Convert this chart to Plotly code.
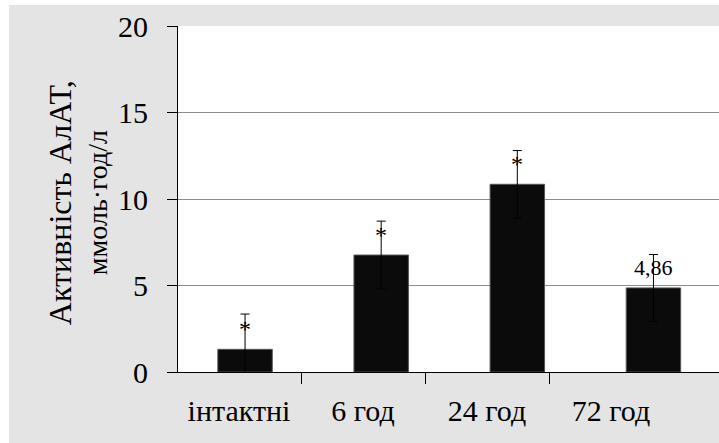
import plotly.graph_objects as go

# ALT activity by time point
groups = ["інтактні", "6 год", "24 год", "72 год"]
values = [1.31, 6.76, 10.85, 4.86]
errors = [2.04, 1.96, 1.95, 1.93]
significant = [True, True, True, False]
value_labels = ["", "", "", "4,86"]
y_ticks = [0, 5, 10, 15, 20]

SERIF = "Liberation Serif"
GRID = "#8c8c8c"
BG = "#e4e4e4"
CLEAR = "rgba(0,0,0,0)"


def serif(text):
    """Wrap a label so the serif face is applied to the text itself."""
    return f"<span style='font-family:{SERIF}'>{text}</span>"


positions = list(range(len(groups)))
boundaries = [p - 0.5 for p in positions]

fig = go.Figure()

fig.add_trace(go.Bar(
    x=positions,
    y=values,
    width=0.4,
    marker=dict(color="#0b0b0b", line=dict(color="#555555", width=1)),
    error_y=dict(type="data", array=errors, visible=True,
                 color="black", thickness=1, width=4.5),
    showlegend=False,
    hoverinfo="skip",
))

# invisible traces that bind the auxiliary axes (group ticks, group labels, y labels)
for xa, ya in (("x2", "y"), ("x3", "y"), ("x", "y2")):
    fig.add_trace(go.Scatter(
        x=positions, y=[0] * len(groups), xaxis=xa, yaxis=ya,
        mode="markers", marker=dict(opacity=0), showlegend=False, hoverinfo="skip",
    ))

annotations = []
for i, v in enumerate(values):
    if significant[i]:
        annotations.append(dict(
            x=positions[i], y=v, xref="x", yref="y", text=serif("*"),
            showarrow=False, yanchor="middle", yshift=20,
            font=dict(family=SERIF, size=24),
        ))
    if value_labels[i]:
        annotations.append(dict(
            x=positions[i], y=v, xref="x", yref="y", text=serif(value_labels[i]),
            showarrow=False, yanchor="middle", yshift=20,
            font=dict(family=SERIF, size=22),
        ))

# y axis title, two lines of different size
annotations.append(dict(
    x=-0.2181, y=0.488, xref="paper", yref="paper", text=serif("Активність АлАТ,"),
    textangle=-90, showarrow=False, xanchor="center", yanchor="middle",
    font=dict(family=SERIF, size=32),
))
annotations.append(dict(
    x=-0.1497, y=0.488, xref="paper", yref="paper", text=serif("ммоль·год/л"),
    textangle=-90, showarrow=False, xanchor="center", yanchor="middle",
    font=dict(family=SERIF, size=28),
))

shapes = [
    # white strips framing the grey panel on the left and top
    dict(type="rect", xref="paper", yref="paper", x0=-0.40, x1=-0.3124,
         y0=-0.4, y1=1.2, fillcolor="white", line=dict(width=0), layer="below"),
    dict(type="rect", xref="paper", yref="paper", x0=-0.40, x1=1.1,
         y0=1.0607, y1=1.2, fillcolor="white", line=dict(width=0), layer="below"),
]

label_font = dict(family=SERIF, size=30)

fig.update_layout(
    width=719, height=443,
    margin=dict(l=178, r=0, t=26, b=71, pad=0),
    paper_bgcolor=BG,
    plot_bgcolor="white",
    font=dict(family=SERIF, color="black"),
    bargap=0.6,
    annotations=annotations,
    shapes=shapes,
    # bar positions
    xaxis=dict(
        range=[-0.4926, 3.4816], showticklabels=False, ticks="",
        showgrid=False, zeroline=False,
        showline=True, linecolor="black", linewidth=1,
    ),
    # tick marks between groups
    xaxis2=dict(
        overlaying="x", side="bottom", anchor="y",
        range=[-0.4919, 3.871],
        tickmode="array", tickvals=boundaries, ticktext=[""] * len(boundaries),
        ticks="outside", ticklen=11, tickcolor="black", tickwidth=1,
        showgrid=False, zeroline=False, showline=False,
    ),
    # group labels
    xaxis3=dict(
        overlaying="x", side="bottom", anchor="y",
        range=[-0.4919, 3.871],
        tickmode="array", tickvals=positions, ticktext=[serif(g) for g in groups],
        ticks="outside", ticklen=12, tickcolor=CLEAR,
        showgrid=False, zeroline=False, showline=False,
        tickfont=label_font,
    ),
    yaxis=dict(
        range=[0, 20], tickvals=y_ticks, showticklabels=False,
        showgrid=True, gridcolor=GRID, gridwidth=1,
        zeroline=False,
        showline=True, linecolor="black", linewidth=1,
        ticks="outside", ticklen=10, tickcolor="black",
    ),
    # y tick labels, pushed away from the axis
    yaxis2=dict(
        overlaying="y", side="left", anchor="x",
        range=[0, 20], tickvals=y_ticks, ticktext=[serif(t) for t in y_ticks],
        ticks="outside", ticklen=23, tickcolor=CLEAR,
        showgrid=False, zeroline=False, showline=False,
        tickfont=label_font,
    ),
)

fig.write_html("out.html")
